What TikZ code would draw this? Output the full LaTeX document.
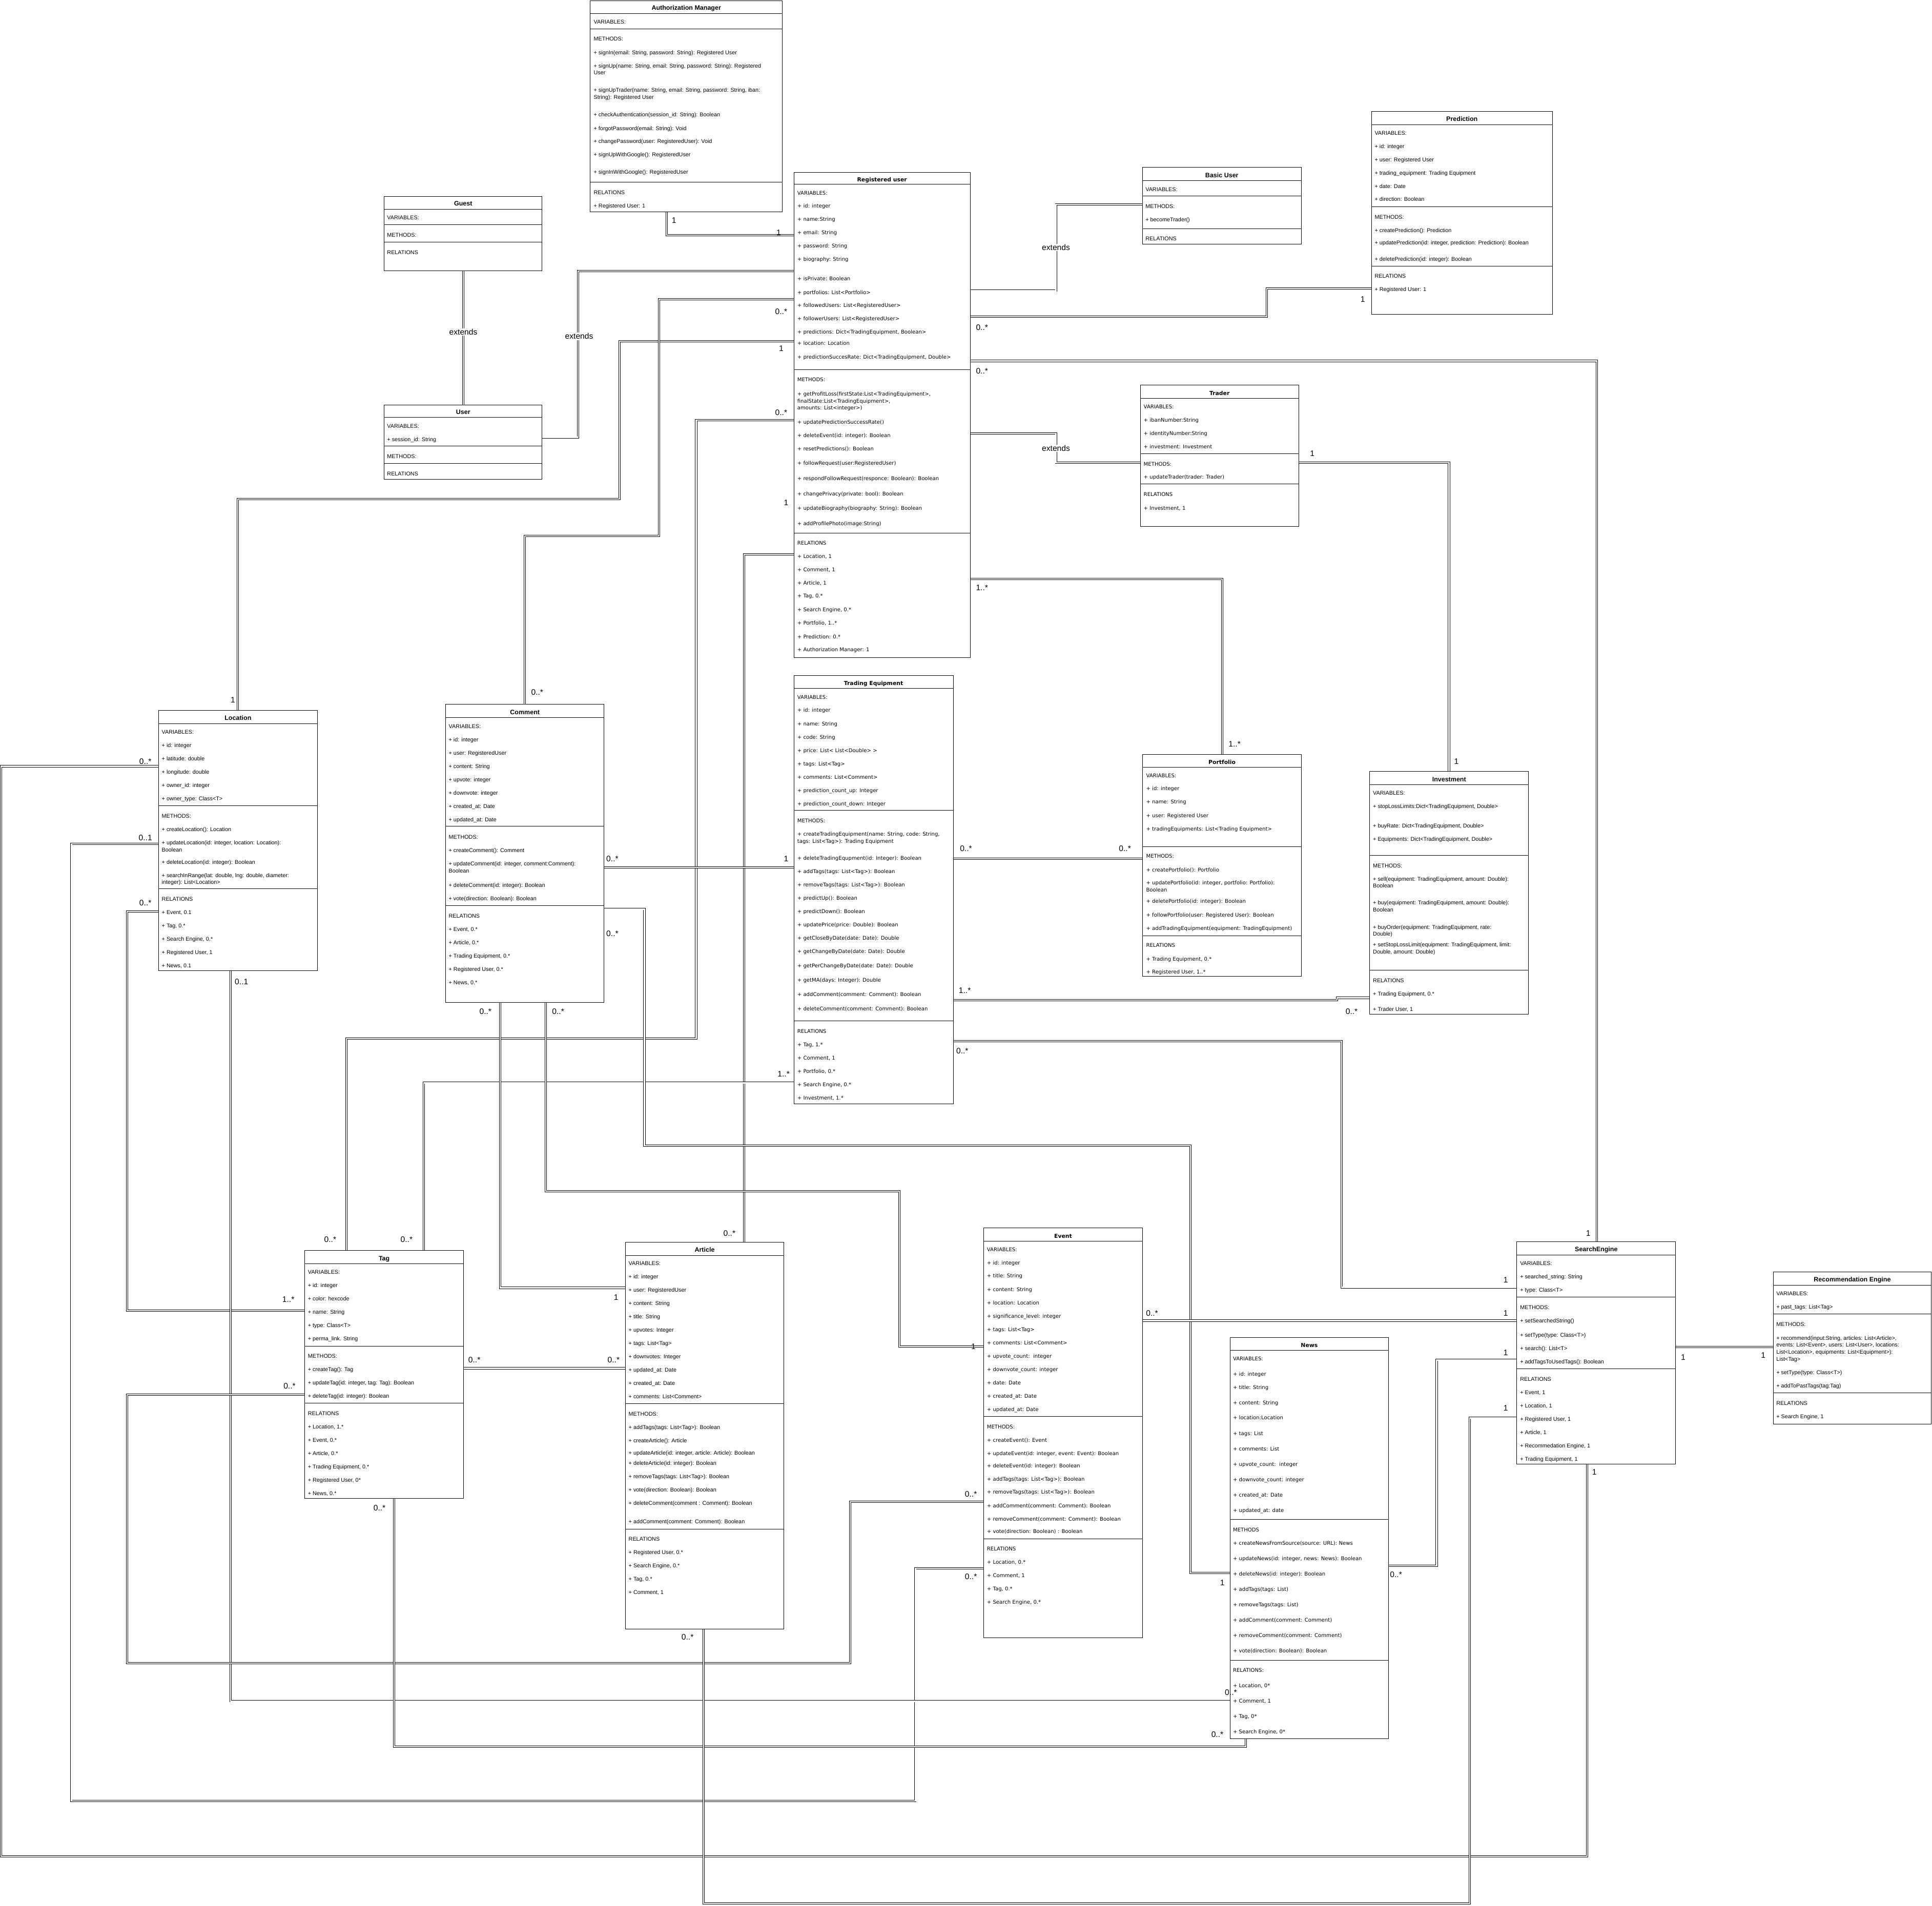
\documentclass[tikz,border=0pt]{standalone}
\usepackage{fontspec}
\setmainfont{Liberation Sans}
\newfontfamily\dejavu{DejaVu Sans}
\pgfdeclarelayer{bg}
\pgfsetlayers{bg,main}
\tikzset{
  classbox/.style={draw, anchor=north west, inner sep=0pt, outer sep=0pt, line width=0.4pt},
  ctitle/.style={font=\bfseries\fontsize{5.2}{6}\selectfont, inner sep=0pt, anchor=mid},
  wtitle/.style={ctitle, font=\dejavu\bfseries\fontsize{4.5}{6}\selectfont},
  member/.style={anchor=mid west, inner sep=0pt, font=\fontsize{4.5}{5}\selectfont},
  wmember/.style={member, font=\dejavu\fontsize{4.2}{5}\selectfont},
  link/.style={double, double distance=0.9pt, line width=0.4pt},
  mult/.style={font=\fontsize{6.5}{7}\selectfont, inner sep=0pt},
  extlabel/.style={mult, fill=white, inner sep=0.6pt},
}
% box, title and compartment lines of one class
\newcommand{\umlclass}[9][ctitle]{%
  \node[classbox, minimum width=#5pt, minimum height=#6pt] (#2) at (#3,#4) {};
  \node[#1] (#2-title) at (#3+#5/2,#8) {#7};
  \foreach \yy in {#9} \draw[line width=0.35pt] (#2.west |- 0,\yy) -- (#2.east |- 0,\yy);
}
% one text line per entry: y/text
\newcommand{\umlmembers}[4][member]{%
  \foreach \yy/\txt [count=\i] in {#4} \node[#1] (#2-\i) at (#3,\yy) {\txt};
}
\begin{document}
\begin{tikzpicture}[x=1pt, y=-1pt]
  \useasboundingbox (0,0) rectangle (1568,1547);
  % CLASSES
  \umlclass{auth}{479}{0.5}{156}{171.5}{Authorization Manager}{5.6}{10.8,23.6,148}
  \umlmembers{auth}{481.7}{16.6/VARIABLES:, 30.5/METHODS:,
    41.6/{+ signIn(email: String, password: String): Registered User},
    52.4/{+ signUp(name: String, email: String, password: String): Registered}, 58/User,
    72/{+ signUpTrader(name: String, email: String, password: String, iban:}, 78/String): Registered User,
    92/+ checkAuthentication(session\_id: String): Boolean, 103/+ forgotPassword(email: String): Void,
    113.7/+ changePassword(user: RegisteredUser): Void, 124.5/+ signUpWithGoogle(): RegisteredUser,
    138.6/+ signInWithGoogle(): RegisteredUser, 155/RELATIONS, 166/+ Registered User: 1}

  \umlclass{guest}{311.8}{159.3}{128.2}{60.5}{Guest}{164.5}{169.7,182.3,196.4}
  \umlmembers{guest}{314}{175.6/VARIABLES:, 189.7/METHODS:, 203.7/RELATIONS}

  \umlclass{user}{311.8}{328.6}{128.2}{60.5}{User}{333.8}{338.9,362,376}
  \umlmembers{user}{314}{345/VARIABLES:, 355.7/+ session\_id: String, 369.4/METHODS:, 383.5/RELATIONS}

  \umlclass[wtitle]{reg}{644.3}{139.8}{143.1}{393.9}{Registered user}{144.7}{149.5,300.2,432.6}
  \umlmembers[wmember]{reg}{646.9}{155.6/VARIABLES:, 166.1/+ id: integer, 177/+ name:String,
    187.7/+ email: String, 198.6/+ password: String, 209.3/+ biography: String,
    225.1/+ isPrivate: Boolean, 236.1/+ portfolios: List<Portfolio>,
    246.8/+ followedUsers: List<RegisteredUser>, 257.5/+ followerUsers: List<RegisteredUser>,
    268.4/{+ predictions: Dict<TradingEquipment, Boolean>}, 277.5/+ location: Location,
    288.5/{+ predictionSuccesRate: Dict<TradingEquipment, Double>}, 307.1/METHODS:,
    318.5/{+ getProfitLoss(firstState:List<TradingEquipment>,}, 324.4/{finalState:List<TradingEquipment>,},
    330/amounts: List<integer>), 341.4/+ updatePredictionSuccessRate(),
    352.4/+ deleteEvent(id: integer): Boolean, 363.3/+ resetPredictions(): Boolean,
    374.8/+ followRequest(user:RegisteredUser), 387.3/+ respondFollowRequest(responce: Boolean): Boolean,
    399.7/+ changePrivacy(private: bool): Boolean, 411.4/+ updateBiography(biography: String): Boolean,
    423.9/+ addProfilePhoto(image:String), 439.7/RELATIONS, 450.4/{+ Location, 1},
    461.3/{+ Comment, 1}, 472/{+ Article, 1}, 482.7/{+ Tag, 0.*}, 493.7/{+ Search Engine, 0.*},
    504.6/{+ Portfolio, 1..*}, 515.6/+ Prediction: 0.*, 526.2/+ Authorization Manager: 1}

  \umlclass{basic}{927.3}{135.9}{128.7}{62.1}{Basic User}{141.3}{146.7,159,185.7}
  \umlmembers{basic}{929.5}{152.5/VARIABLES:, 166.4/METHODS:, 177.2/+ becomeTrader(), 192.7/RELATIONS}

  \umlclass{pred}{1113}{90.3}{147}{164.7}{Prediction}{95.8}{101.2,167.8,216}
  \umlmembers{pred}{1115.5}{106.9/VARIABLES:, 117.6/+ id: integer, 128.4/+ user: Registered User,
    139.2/+ trading\_equipment: Trading Equipment, 150/+ date: Date, 160.8/+ direction: Boolean,
    175/METHODS:, 185.8/+ createPrediction(): Prediction,
    195.8/{+ updatePrediction(id: integer, prediction: Prediction): Boolean},
    209.1/+ deletePrediction(id: integer): Boolean, 223/RELATIONS, 233.9/+ Registered User: 1}

  \umlclass[wtitle]{trader}{925.5}{312.7}{128.5}{114.6}{Trader}{318.1}{323.5,368.4,393}
  \umlmembers[wmember]{trader}{928}{329/VARIABLES:, 339.7/+ ibanNumber:String,
    350.8/+ identityNumber:String, 361.5/+ investment: Investment, 375.5/METHODS:,
    386/+ updateTrader(trader: Trader), 400.3/RELATIONS, 411.2/{+ Investment, 1}}

  \umlclass[wtitle]{port}{927.3}{612.6}{129}{180.1}{Portfolio}{617.6}{622.9,687.2,759.5}
  \umlmembers[wmember]{port}{930}{628.5/VARIABLES:, 639/+ id: integer, 649.9/+ name: String,
    660.8/+ user: Registered User, 671.6/+ tradingEquipments: List<Trading Equipment>,
    694/METHODS:, 704.9/+ createPortfolio(): Portfolio,
    715.4/{+ updatePortfolio(id: integer, portfolio: Portfolio):}, 721.3/Boolean,
    730.6/+ deletePortfolio(id: integer): Boolean, 741.5/+ followPortfolio(user: Registered User): Boolean,
    752.4/+ addTradingEquipment(equipment: TradingEquipment), 766.3/RELATIONS,
    777.2/{+ Trading Equipment, 0.*}, 788/{+ Registered User, 1..*}}

  \umlclass{inv}{1111.6}{626.3}{129}{197}{Investment}{631.7}{637.1,694.3,787.6}
  \umlmembers{inv}{1114.1}{642.7/VARIABLES:, 653.5/{+ stopLossLimits:Dict<TradingEquipment, Double>},
    669.3/{+ buyRate: Dict<TradingEquipment, Double>}, 680.1/{+ Equipments: Dict<TradingEquipment, Double>},
    701.7/METHODS:, 712.4/{+ sell(equipment: TradingEquipment, amount: Double):}, 718.1/Boolean,
    731.6/{+ buy(equipment: TradingEquipment, amount: Double):}, 737.4/Boolean,
    751.5/{+ buyOrder(equipment: TradingEquipment, rate:}, 757.2/Double),
    765.7/{+ setStopLossLimit(equipment: TradingEquipment, limit:}, 771.5/{Double, amount: Double)},
    794.8/RELATIONS, 805.6/{+ Trading Equipment, 0.*}, 818.1/{+ Trader User, 1}}

  \umlclass{loc}{128.7}{576.7}{128.9}{211.3}{Location}{582}{587.4,654.1,721.4}
  \umlmembers{loc}{131.1}{593.1/VARIABLES:, 603.8/+ id: integer, 614.6/+ latitude: double,
    625.4/+ longitude: double, 636.3/+ owner\_id: integer, 647.1/+ owner\_type: Class<T>,
    661.3/METHODS:, 672.1/+ createLocation(): Location,
    682.9/{+ updateLocation(id: integer, location: Location):}, 688.6/Boolean,
    698.7/+ deleteLocation(id: integer): Boolean,
    709.5/{+ searchInRange(lat: double, lng: double, diameter:}, 715.2/integer): List<Location>,
    728.6/RELATIONS, 739.4/{+ Event, 0.1}, 750.3/{+ Tag, 0.*}, 761.1/{+ Search Engine, 0.*},
    771.9/{+ Registered User, 1}, 782.7/{+ News, 0.1}}

  \umlclass{comm}{361.7}{571.8}{128.6}{242}{Comment}{577.2}{582.6,670.8,735}
  \umlmembers{comm}{364}{588.5/VARIABLES:, 599.3/+ id: integer, 610.2/+ user: RegisteredUser,
    621/+ content: String, 631.8/+ upvote: integer, 642.6/+ downvote: integer,
    653.3/+ created\_at: Date, 664.1/+ updated\_at: Date, 678.3/METHODS:,
    689.1/+ createComment(): Comment, 700/{+ updateComment(id: integer, comment:Comment):},
    705.7/Boolean, 717.5/+ deleteComment(id: integer): Boolean,
    728.3/+ vote(direction: Boolean): Boolean, 742.3/RELATIONS, 753.1/{+ Event, 0.*},
    763.9/{+ Article, 0.*}, 774.7/{+ Trading Equipment, 0.*}, 785.6/{+ Registered User, 0.*},
    796.4/{+ News, 0.*}}

  \umlclass[wtitle]{teq}{644.3}{548.3}{129.3}{347.7}{Trading Equipment}{553.6}{558.9,657.7,828.5}
  \umlmembers[wmember]{teq}{646.9}{564.8/VARIABLES:, 575.4/+ id: integer, 586.4/+ name: String,
    597.2/+ code: String, 608.1/+ price: List< List<Double> >, 618.9/+ tags: List<Tag>,
    629.7/+ comments: List<Comment>, 640.5/+ prediction\_count\_up: Integer,
    651.3/+ prediction\_count\_down: Integer, 665.3/METHODS:,
    676.1/{+ createTradingEquipment(name: String, code: String,}, 681.8/tags: List<Tag>): Trading Equipment,
    695.3/+ deleteTradingEqupment(id: Integer): Boolean, 706.1/+ addTags(tags: List<Tag>): Boolean,
    717/+ removeTags(tags: List<Tag>): Boolean, 727.8/+ predictUp(): Boolean,
    738.6/+ predictDown(): Boolean, 749.4/+ updatePrice(price: Double): Boolean,
    760.2/+ getCloseByDate(date: Date): Double, 771/+ getChangeByDate(date: Date): Double,
    782.8/+ getPerChangeByDate(date: Date): Double, 794.3/+ getMA(days: Integer): Double,
    806/+ addComment(comment: Comment): Boolean, 817.7/+ deleteComment(comment: Comment): Boolean,
    836/RELATIONS, 846.8/{+ Tag, 1.*}, 857.7/{+ Comment, 1}, 868.5/{+ Portfolio, 0.*},
    879.3/{+ Search Engine, 0.*}, 890.1/{+ Investment, 1.*}}

  \umlclass{tag}{247.4}{1015.1}{128.8}{201.3}{Tag}{1020.6}{1026,1092.6,1139.1}
  \umlmembers{tag}{249.7}{1031.5/VARIABLES:, 1042.3/+ id: integer, 1053.2/+ color: hexcode,
    1064.1/+ name: String, 1074.8/+ type: Class<T>, 1085.7/+ perma\_link. String,
    1099.8/METHODS:, 1110.7/+ createTag(): Tag, 1121.4/{+ updateTag(id: integer, tag: Tag): Boolean},
    1132.1/+ deleteTag(id: integer): Boolean, 1146.2/RELATIONS, 1157.1/{+ Location, 1.*},
    1168/{+ Event, 0.*}, 1178.7/{+ Article, 0.*}, 1189.6/{+ Trading Equipment, 0.*},
    1200.4/{+ Registered User, 0*}, 1211.1/{+ News, 0.*}}

  \umlclass{art}{507.6}{1008.3}{128.6}{313.9}{Article}{1013.7}{1019,1139.5,1241.1}
  \umlmembers{art}{510}{1024.4/VARIABLES:, 1035.3/+ id: integer, 1045.9/+ user: RegisteredUser,
    1056.9/+ content: String, 1067.8/+ title: String, 1078.6/+ upvotes: Integer,
    1089.3/+ tags: List<Tag>, 1100/+ downvotes: Integer, 1110.9/+ updated\_at: Date,
    1121.8/+ created\_at: Date, 1132.5/+ comments: List<Comment>, 1146.6/METHODS:,
    1157.5/+ addTags(tags: List<Tag>): Boolean, 1168.4/+ createArticle(): Article,
    1178.2/{+ updateArticle(id: integer, article: Article): Boolean},
    1186.5/+ deleteArticle(id: integer): Boolean, 1197.4/+ removeTags(tags: List<Tag>): Boolean,
    1208.3/+ vote(direction: Boolean): Boolean, 1219/+ deleteComment(comment : Comment): Boolean,
    1234.1/+ addComment(comment: Comment): Boolean, 1248/RELATIONS,
    1258.9/{+ Registered User, 0.*}, 1269.8/{+ Search Engine, 0.*}, 1280.5/{+ Tag, 0.*},
    1291.3/{+ Comment, 1}}

  \umlclass[wtitle]{event}{798.3}{996.8}{129}{332.6}{Event}{1002.2}{1007.6,1149.8,1249}
  \umlmembers[wmember]{event}{800.8}{1013.2/VARIABLES:, 1023.9/+ id: integer, 1034.6/+ title: String,
    1045.6/+ content: String, 1056.3/+ location: Location, 1067.3/+ significance\_level: integer,
    1078/+ tags: List<Tag>, 1088.8/+ comments: List<Comment>, 1099.7/+ upvote\_count:\ \ integer,
    1110.4/+ downvote\_count: integer, 1121.2/+ date: Date, 1132.2/+ created\_at: Date,
    1142.9/+ updated\_at: Date, 1157.1/METHODS:, 1167.8/+ createEvent(): Event,
    1178.8/{+ updateEvent(id: integer, event: Event): Boolean}, 1188.7/+ deleteEvent(id: integer): Boolean,
    1199.4/+ addTags(tags: List<Tag>): Boolean, 1210.1/+ removeTags(tags: List<Tag>): Boolean,
    1221.1/+ addComment(comment: Comment): Boolean, 1231.8/+ removeComment(comment: Comment): Boolean,
    1241.8/+ vote(direction: Boolean) : Boolean, 1255.9/RELATIONS, 1266.9/{+ Location, 0.*},
    1277.7/{+ Comment, 1}, 1288.4/{+ Tag, 0.*}, 1299.4/{+ Search Engine, 0.*}}

  \umlclass[wtitle]{news}{998.2}{1085.8}{128.8}{325.6}{News}{1091}{1096.3,1233.4,1347.8}
  \umlmembers[wmember]{news}{1000.5}{1101.6/VARIABLES:, 1114.2/+ id: integer, 1124.9/+ title: String,
    1137.5/+ content: String, 1149.8/+ location:Location, 1162.4/+ tags: List,
    1175/+ comments: List, 1187.4/+ upvote\_count:\ \ integer, 1200/+ downvote\_count: integer,
    1212.3/+ created\_at: Date, 1224.9/+ updated\_at: date, 1240.7/METHODS,
    1251.4/+ createNewsFromSource(source: URL): News,
    1264/{+ updateNews(id: integer, news: News): Boolean}, 1276.3/+ deleteNews(id: integer): Boolean,
    1288.9/+ addTags(tags: List), 1301.5/+ removeTags(tags: List),
    1313.8/+ addComment(comment: Comment), 1326.4/+ removeComment(comment: Comment),
    1338.7/+ vote(direction: Boolean): Boolean, 1354.5/RELATIONS:, 1367.1/{+ Location, 0*},
    1379.5/{+ Comment, 1}, 1392.1/{+ Tag, 0*}, 1404.7/{+ Search Engine, 0*}}

  \umlclass{se}{1231}{1008}{129}{180.6}{SearchEngine}{1013.4}{1018.8,1052.8,1111.1}
  \umlmembers{se}{1233.5}{1024.5/VARIABLES:, 1035.4/+ searched\_string: String,
    1046.2/+ type: Class<T>, 1060.2/METHODS:, 1071/+ setSearchedString(),
    1082.6/+ setType(type: Class<T>), 1093.5/+ search(): List<T>,
    1104.3/+ addTagsToUsedTags(): Boolean, 1118.4/RELATIONS, 1129.3/{+ Event, 1},
    1140.1/{+ Location, 1}, 1150.9/{+ Registered User, 1}, 1161.7/{+ Article, 1},
    1172.5/{+ Recommedation Engine, 1}, 1183.3/{+ Trading Equipment, 1}}

  \umlclass{rec}{1439.1}{1032.4}{128.4}{123.5}{Recommendation Engine}{1037.8}{1043.3,1066.6,1130.5}
  \umlmembers{rec}{1441.5}{1049.1/VARIABLES:, 1059.8/+ past\_tags: List<Tag>, 1074/METHODS:,
    1085/{+ recommend(input:String, articles: List<Article>,},
    1090.7/{events: List<Event>, users: List<User>, locations:},
    1096.5/{List<Location>, equipments: List<Equipment>):}, 1102.3/List<Tag>,
    1113.1/+ setType(type: Class<T>), 1124/+ addToPastTags(tag:Tag), 1137.8/RELATIONS,
    1148.8/{+ Search Engine, 1}}

  % CONNECTORS
  \begin{pgfonlayer}{bg}
    \draw[link] (guest.south -| 376,0) -- (user.north -| 376,0);
    \draw[link] (user.east |- 0,355) -| (469,220) -- (reg.west |- 0,220);
    \draw[link] (auth.south -| 541,0) |- (reg.west |- 0,191);
    \draw[link] (reg.east |- 0,236) -| (857,166) -- (basic.west |- 0,166);
    \draw[link] (reg.east |- 0,257) -| (1028,234) -- (pred.west |- 0,234);
    \draw[link] (reg.east |- 0,293) -| (se.north -| 1296,0);
    \draw[link] (reg.east |- 0,352) -| (857,375.5) -- (trader.west |- 0,375.5);
    \draw[link] (trader.east |- 0,375.5) -| (inv.north -| 1176,0);
    \draw[link] (reg.east |- 0,470) -| (port.north -| 992,0);
    \draw[link] (reg.west |- 0,277) -| (503,405) -| (loc.north -| 193,0);
    \draw[link] (reg.west |- 0,243) -| (535,435) -| (comm.north -| 426,0);
    \draw[link] (reg.west |- 0,341) -| (565,843) -| (tag.north -| 281,0);
    \draw[link] (reg.west |- 0,450) -| (art.north -| 604,0);
    \draw[link] (loc.west |- 0,622) -| (1,1507) -| (se.south -| 1288,0);
    \draw[link] (loc.west |- 0,685) -| (58,1462) -| (743,1273) -- (event.west |- 0,1273);
    \draw[link] (loc.west |- 0,740) -| (103,1064) -- (tag.west |- 0,1064);
    \draw[link] (loc.south -| 187,0) |- (news.west |- 0,1381);
    \draw[link] (tag.west |- 0,1132) -| (103,1350) -| (690,1219) -- (event.west |- 0,1219);
    \draw[link] (tag.south -| 320,0) |- (1011,1418) -- (news.south -| 1011,0);
    \draw[link] (tag.east |- 0,1110.7) -- (art.west |- 0,1110.7);
    \draw[link] (teq.west |- 0,879) -| (tag.north -| 344,0);
    \draw[link] (comm.east |- 0,704) -- (teq.west |- 0,704);
    \draw[link] (comm.south -| 406,0) |- (art.west |- 0,1045.4);
    \draw[link] (comm.south -| 443,0) |- (730,967) |- (event.west |- 0,1093);
    \draw[link] (comm.east |- 0,738) -| (523,930) -| (966,1277) -- (news.west |- 0,1277);
    \draw[link] (teq.east |- 0,697) -- (port.west |- 0,697);
    \draw[link] (teq.east |- 0,812) -- (1085,812) -- (1085,810) -- (inv.west |- 0,810);
    \draw[link] (teq.east |- 0,845) -| (1089,1045) -- (se.west |- 0,1045);
    \draw[link] (event.east |- 0,1072) -- (se.west |- 0,1072);
    \draw[link] (news.east |- 0,1271) -| (1166,1104) -- (se.west |- 0,1104);
    \draw[link] (art.south -| 571,0) |- (1193,1545) |- (se.west |- 0,1151);
    \draw[link] (se.east |- 0,1093.3) -- (rec.west |- 0,1093.3);
  \end{pgfonlayer}
  \node[extlabel] (ext1) at (376,269.5) {extends};
  \node[extlabel] (ext2) at (470,273) {extends};
  \node[extlabel] (ext3) at (857,201) {extends};
  \node[extlabel] (ext4) at (857,364) {extends};
  % MULTIPLICITIES
  \foreach \x/\y/\t [count=\i] in {547/179/1, 632/189/1, 634/253/0..*, 436/562/0..*,
      634/283/1, 189/568/1, 634/335/0..*, 268/1006/0..*, 638/408/1, 592/1001/0..*,
      797/266/0..*, 1106/243/1, 797/301/0..*, 1289/1001/1, 1065/368/1, 1182/618/1,
      797/477/1..*, 1002/604/1..*, 118/618/0..*, 1294/1195/1, 118/680/0..1, 788/1280/0..*,
      118/733/0..*, 234/1055/1..*, 196/797/0..1, 999/1374/0..*, 235/1125/0..*, 788/1213/0..*,
      308/1224/0..*, 988/1408/0..*, 385/1104/0..*, 498/1104/0..*, 330/1006/0..*, 636/872/1..*,
      497/697/0..*, 638/697/1, 394/821/0..*, 500/1053/1, 453/821/0..*, 790/1093/1,
      497/758/0..*, 992/1285/1, 784/689/0..*, 913/689/0..*, 783/804/1..*, 1097/821/0..*,
      781/853/0..*, 1222/1039/1, 935/1066/0..*, 1222/1066/1, 1133/1278/0..*, 1222/1098/1,
      558/1329/0..*, 1222/1143/1, 1366/1102/1, 1431/1100/1}
    \node[mult] (mult\i) at (\x,\y) {\t};
\end{tikzpicture}
\end{document}
